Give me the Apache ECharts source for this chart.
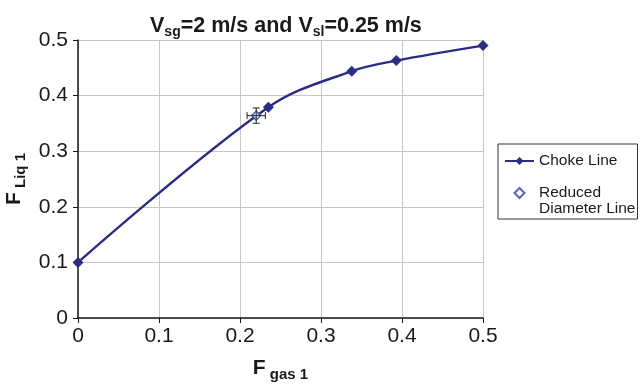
<!DOCTYPE html>
<html>
<head>
<meta charset="utf-8">
<script src="https://cdn.jsdelivr.net/npm/echarts@6/dist/echarts.min.js"></script>
<style>
  html, body { margin: 0; padding: 0; background: #fff; }
  #chart { width: 640px; height: 387px; }
</style>
</head>
<body>
<div id="chart"></div>
<script>
// values
const xTicks = [0, 0.1, 0.2, 0.3, 0.4, 0.5];
const yTicks = [0, 0.1, 0.2, 0.3, 0.4, 0.5];
const chokeX = [0, 0.235, 0.338, 0.393, 0.5];
const chokeY = [0.1, 0.379, 0.444, 0.463, 0.49];
const reducedX = [0.22];
const reducedY = [0.364];
const reducedErrX = [0.0113];
const reducedErrY = [0.0137];

const LINE_COLOR = '#2A2D86';
const TEXT_COLOR = '#1a1a1a';
const FONT = '"Liberation Sans", Arial, sans-serif';
const DIAMOND = 'path://M0,-1L1,0L0,1L-1,0Z';

const chart = echarts.init(document.getElementById('chart'), null, { renderer: 'canvas' });

const chokeData = chokeX.map((x, i) => [x, chokeY[i]]);
const reducedData = reducedX.map((x, i) => [x, reducedY[i]]);
const errData = reducedX.map((x, i) => [x, reducedY[i], reducedErrX[i], reducedErrY[i]]);

function nameRich() {
    return {
        f: { fontFamily: FONT, fontSize: 21, fontWeight: 'bold', color: TEXT_COLOR },
        s: { fontFamily: FONT, fontSize: 15, fontWeight: 'bold', color: TEXT_COLOR, padding: [12, 0, 0, 0] },
    };
}

const option = {
    animation: false,
    textStyle: { fontFamily: FONT },
    title: {
        text: '{b|V}{s|sg}{b|=2 m/s and V}{s|sl}{b|=0.25 m/s}',
        left: 145,
        top: 8,
        textStyle: {
            rich: {
                b: { fontFamily: FONT, fontSize: 21.5, fontWeight: 'bold', color: TEXT_COLOR },
                s: { fontFamily: FONT, fontSize: 14, fontWeight: 'bold', color: TEXT_COLOR, padding: [12, 0, 0, 0] },
            },
        },
    },
    legend: {
        orient: 'vertical',
        left: 498,
        top: 144,
        padding: [9, 2, 2, 6],
        itemGap: 0,
        itemWidth: 29,
        itemHeight: 10,
        borderColor: '#333',
        borderWidth: 1,
        textStyle: { fontFamily: FONT, fontSize: 15.5, color: TEXT_COLOR, lineHeight: 16 },
        data: [
            { name: 'Choke Line' },
            { name: 'Reduced Diameter Line', icon: DIAMOND },
        ],
        symbolKeepAspect: true,
        formatter: name => name === 'Reduced Diameter Line' ? '\nReduced\nDiameter Line' : name,
    },
    grid: { left: 78, right: 157, top: 40, bottom: 69, outerBoundsMode: 'none', containLabel: false },
    xAxis: {
        type: 'value',
        min: xTicks[0],
        max: xTicks[xTicks.length - 1],
        interval: 0.1,
        name: '{f|F}{s| gas 1}',
        nameLocation: 'middle',
        nameGap: 37,
        nameTextStyle: { rich: nameRich() },
        axisLine: { lineStyle: { color: TEXT_COLOR, width: 1.5 } },
        axisTick: { length: 5, lineStyle: { color: TEXT_COLOR } },
        axisLabel: { fontSize: 21, color: TEXT_COLOR, margin: 8 },
        splitLine: { lineStyle: { color: '#c6c6c6', width: 1 } },
    },
    yAxis: {
        type: 'value',
        min: yTicks[0],
        max: yTicks[yTicks.length - 1],
        interval: 0.1,
        name: '{f|F}{s| Liq 1}',
        nameLocation: 'middle',
        nameGap: 46,
        nameTextStyle: { rich: nameRich() },
        axisLine: { show: true, lineStyle: { color: TEXT_COLOR, width: 1.5 } },
        axisTick: { show: true, length: 5, lineStyle: { color: TEXT_COLOR } },
        axisLabel: { fontSize: 21, color: TEXT_COLOR, margin: 10 },
        splitLine: { lineStyle: { color: '#c6c6c6', width: 1 } },
    },
    series: [
        {
            name: 'Choke Line',
            type: 'line',
            data: chokeData,
            smooth: 0.35,
            symbol: 'diamond',
            symbolSize: 11,
            lineStyle: { color: LINE_COLOR, width: 2.4 },
            itemStyle: { color: LINE_COLOR },
            z: 3,
        },
        {
            name: 'Reduced Diameter Line',
            type: 'scatter',
            data: reducedData,
            symbol: 'diamond',
            symbolSize: 9,
            itemStyle: { color: '#fff', borderColor: '#3040A8', borderWidth: 1.5 },
            z: 4,
        },
        {
            name: 'err',
            type: 'custom',
            data: errData,
            z: 5,
            renderItem: (params, api) => {
                const x = api.value(0), y = api.value(1), ex = api.value(2), ey = api.value(3);
                const l = api.coord([x - ex, y]);
                const r = api.coord([x + ex, y]);
                const t = api.coord([x, y + ey]);
                const b = api.coord([x, y - ey]);
                const cap = 3.5;
                const st = { stroke: '#222', lineWidth: 1 };
                return {
                    type: 'group',
                    children: [
                        { type: 'line', shape: { x1: l[0], y1: l[1], x2: r[0], y2: r[1] }, style: st },
                        { type: 'line', shape: { x1: l[0], y1: l[1] - cap, x2: l[0], y2: l[1] + cap }, style: st },
                        { type: 'line', shape: { x1: r[0], y1: r[1] - cap, x2: r[0], y2: r[1] + cap }, style: st },
                        { type: 'line', shape: { x1: t[0], y1: t[1], x2: b[0], y2: b[1] }, style: st },
                        { type: 'line', shape: { x1: t[0] - cap, y1: t[1], x2: t[0] + cap, y2: t[1] }, style: st },
                        { type: 'line', shape: { x1: b[0] - cap, y1: b[1], x2: b[0] + cap, y2: b[1] }, style: st },
                    ],
                };
            },
        },
    ],
};

chart.setOption(option);
</script>
</body>
</html>
